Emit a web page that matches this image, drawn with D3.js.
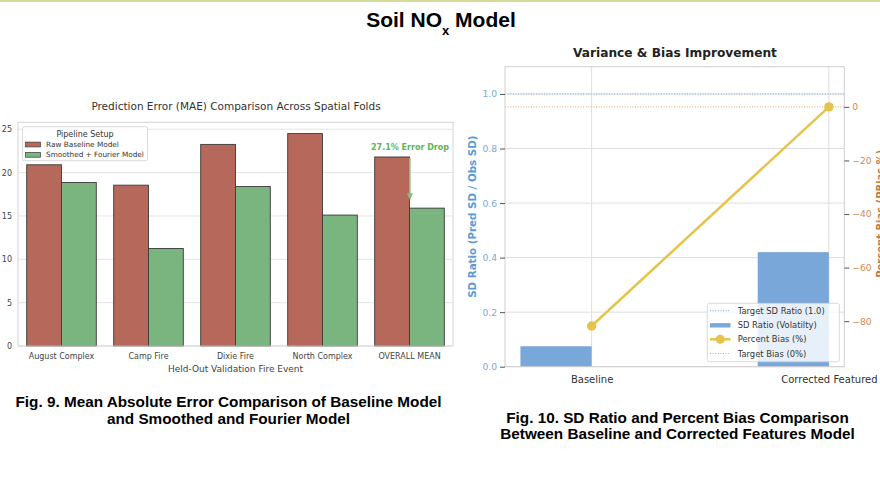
<!DOCTYPE html>
<html><head><meta charset="utf-8">
<script src="https://cdn.jsdelivr.net/npm/d3@7/dist/d3.min.js"></script>
<style>
html,body{margin:0;padding:0;background:#fff;}
svg{display:block;}
text{font-family:"DejaVu Sans",sans-serif;}
</style></head>
<body>
<svg id="c" width="880" height="494"></svg>
<script>
// ---------- data ----------
const folds = ["August Complex","Camp Fire","Dixie Fire","North Complex","OVERALL MEAN"];
const rawMAE = [20.9, 18.55, 23.25, 24.5, 21.8];
const smoothMAE = [18.85, 11.25, 18.4, 15.1, 15.9];
const maeSeries = ["Raw Baseline Model","Smoothed + Fourier Model"];
const maeTicks = [0,5,10,15,20,25];
const maeMax = 25.8;
const dropLabel = "27.1% Error Drop";

const models = ["Baseline","Corrected Featured"];
const sdRatio = [0.075, 0.42];
const pbias = [-81.8, 0];
const sdTicks = [0,0.2,0.4,0.6,0.8,1.0];
const sdDomain = [0, 1.1];
const pbTicks = [0,-20,-40,-60,-80];
const pbDomain = [-97, 15];
const targetSD = 1.0, targetBias = 0;
const legendRight = ["Target SD Ratio (1.0)","SD Ratio (Volatilty)","Percent Bias (%)","Target Bias (0%)"];

// ---------- styles ----------
const RED="#b6685a", GREEN="#7ab47e", BLUE="#7aa7d9", GOLD="#e6c34a", ORANGE="#d08a50";
const svg = d3.select("#c");

// top rule
svg.append("rect").attr("x",0).attr("y",0).attr("width",880).attr("height",2).attr("fill","#d6da9c");

// main title
const mt = svg.append("text").attr("x",441).attr("y",27).attr("text-anchor","middle")
  .style("font-family","'Liberation Sans',Arial,sans-serif").style("font-weight","bold").style("font-size","21px").attr("fill","#000");
mt.append("tspan").text("Soil NO");
mt.append("tspan").attr("dy",8).style("font-size","13px").text("x");
mt.append("tspan").attr("dy",-8).text(" Model");

// captions
function caption(lines, cx, ys){
  lines.forEach((t,i)=>svg.append("text").attr("x",cx).attr("y",ys[i]).attr("text-anchor","middle")
    .style("font-family","'Liberation Sans',Arial,sans-serif").style("font-weight","bold").style("font-size","15.3px")
    .attr("fill","#000").text(t));
}
caption(["Fig. 9. Mean Absolute Error Comparison of Baseline Model","and Smoothed and Fourier Model"],228.5,[407,423.5]);
caption(["Fig. 10. SD Ratio and Percent Bias Comparison","Between Baseline and Corrected Features Model"],677.5,[422.5,439]);

// ---------- left chart ----------
const L = {x0:18, x1:453, y0:122.3, y1:346};
const gL = svg.append("g");
const xb = d3.scaleBand().domain(folds).range([L.x0,L.x1]).paddingInner(0.2).paddingOuter(0.1);
const xs = d3.scaleBand().domain(maeSeries).range([0, xb.bandwidth()]);
const yL = d3.scaleLinear().domain([0,maeMax]).range([L.y1,L.y0]);

// grid
gL.append("g").selectAll("line").data(maeTicks).join("line")
  .attr("x1",L.x0).attr("x2",L.x1).attr("y1",d=>yL(d)).attr("y2",d=>yL(d))
  .attr("stroke","#e4e4e4").attr("stroke-width",1);

// bars
const rows = folds.map((f,i)=>({f, vals:[rawMAE[i], smoothMAE[i]]}));
const colors = [RED, GREEN];
rows.forEach(r=>{
  r.vals.forEach((v,j)=>{
    gL.append("rect").attr("x",xb(r.f)+xs(maeSeries[j])).attr("y",yL(v))
      .attr("width",xs.bandwidth()).attr("height",yL(0)-yL(v))
      .attr("fill",colors[j]).attr("stroke","#3a3a3a").attr("stroke-width",0.9);
  });
});

// frame
gL.append("rect").attr("x",L.x0).attr("y",L.y0).attr("width",L.x1-L.x0).attr("height",L.y1-L.y0)
  .attr("fill","none").attr("stroke","#d4d4d4").attr("stroke-width",1);

// axes
const axYL = gL.append("g").attr("transform",`translate(${L.x0},0)`)
  .call(d3.axisLeft(yL).tickValues(maeTicks).tickSize(0).tickPadding(6));
axYL.select(".domain").remove();
axYL.selectAll("text").style("font-size","8px").attr("fill","#444").style("font-family","'DejaVu Sans'");
const axXL = gL.append("g").attr("transform",`translate(0,${L.y1})`)
  .call(d3.axisBottom(xb).tickSize(0).tickPadding(7));
axXL.select(".domain").remove();
axXL.selectAll("text").style("font-size","8px").attr("fill","#444").style("font-family","'DejaVu Sans'");

gL.append("text").attr("x",(L.x0+L.x1)/2).attr("y",371.5).attr("text-anchor","middle")
  .style("font-size","9px").attr("fill","#444").text("Held-Out Validation Fire Event");
gL.append("text").attr("x",236).attr("y",109.5).attr("text-anchor","middle")
  .style("font-size","10.5px").attr("fill","#333").text("Prediction Error (MAE) Comparison Across Spatial Folds");

// annotation arrow
const last = folds.length-1;
const ax = xb(folds[last]) + xs.bandwidth() + 0.5;
const yTop = yL(rawMAE[last]), yTip = yL(smoothMAE[last]) - 8;
gL.append("line").attr("x1",ax).attr("x2",ax).attr("y1",yTop+1).attr("y2",yTip-5)
  .attr("stroke","#9ad49a").attr("stroke-width",1.6);
gL.append("path").attr("d",`M${ax-3},${yTip-7}L${ax+3},${yTip-7}L${ax},${yTip}Z`).attr("fill","#7cc47c");
gL.append("text").attr("x",ax).attr("y",149.5).attr("text-anchor","middle")
  .style("font-size","8px").style("font-weight","bold").attr("fill","#5db55d").text(dropLabel);

// legend
const lg = gL.append("g");
lg.append("rect").attr("x",22.5).attr("y",126.7).attr("width",125).attr("height",34).attr("rx",2)
  .attr("fill","#fff").attr("fill-opacity",0.85).attr("stroke","#cfcfcf").attr("stroke-width",0.8);
lg.append("text").attr("x",85).attr("y",136.8).attr("text-anchor","middle").style("font-size","8px").attr("fill","#333").text("Pipeline Setup");
maeSeries.forEach((s,j)=>{
  const cy = 144.5 + j*10.3;
  lg.append("rect").attr("x",25.5).attr("y",cy-2.4).attr("width",15).attr("height",4.8)
    .attr("fill",colors[j]).attr("stroke","#3a3a3a").attr("stroke-width",0.7);
  lg.append("text").attr("x",46).attr("y",cy+2.6).style("font-size","7.3px").attr("fill","#333").text(s);
});

// ---------- right chart ----------
const R = {x0:505, x1:844.3, y0:66.7, y1:366.7};
const gR = svg.append("g");
const xR = d3.scaleLinear().domain([-0.365, 1.065]).range([R.x0,R.x1]);
const ySD = d3.scaleLinear().domain(sdDomain).range([R.y1,R.y0]);
const yPB = d3.scaleLinear().domain(pbDomain).range([R.y1,R.y0]);
const idx = models.map((m,i)=>i);

// grid
gR.append("g").selectAll("line").data(sdTicks).join("line")
  .attr("x1",R.x0).attr("x2",R.x1).attr("y1",d=>ySD(d)).attr("y2",d=>ySD(d))
  .attr("stroke","#dedede").attr("stroke-width",1);
gR.append("g").selectAll("line").data(idx).join("line")
  .attr("x1",d=>xR(d)).attr("x2",d=>xR(d)).attr("y1",R.y0).attr("y2",R.y1)
  .attr("stroke","#dedede").attr("stroke-width",1);

// bars (aligned to the left of the tick)
gR.append("g").selectAll("rect").data(idx).join("rect")
  .attr("x",d=>xR(d-0.3)).attr("width",d=>xR(d)-xR(d-0.3))
  .attr("y",d=>ySD(sdRatio[d])).attr("height",d=>ySD(0)-ySD(sdRatio[d]))
  .attr("fill",BLUE);

// target lines
gR.append("line").attr("x1",R.x0).attr("x2",R.x1).attr("y1",ySD(targetSD)).attr("y2",ySD(targetSD))
  .attr("stroke","#7aa7d9").attr("stroke-width",1).attr("stroke-dasharray","1,1.6");
gR.append("line").attr("x1",R.x0).attr("x2",R.x1).attr("y1",yPB(targetBias)).attr("y2",yPB(targetBias))
  .attr("stroke","#e0a46a").attr("stroke-width",1).attr("stroke-dasharray","1,1.6");

// frame
gR.append("rect").attr("x",R.x0).attr("y",R.y0).attr("width",R.x1-R.x0).attr("height",R.y1-R.y0)
  .attr("fill","none").attr("stroke","#cfcfcf").attr("stroke-width",1);

// line
gR.append("path").datum(idx).attr("d",d3.line().x(d=>xR(d)).y(d=>yPB(pbias[d])))
  .attr("fill","none").attr("stroke",GOLD).attr("stroke-width",2.5);
gR.append("g").selectAll("circle").data(idx).join("circle")
  .attr("cx",d=>xR(d)).attr("cy",d=>yPB(pbias[d])).attr("r",4.7).attr("fill",GOLD);

// axes
const axL = gR.append("g").attr("transform",`translate(${R.x0},0)`)
  .call(d3.axisLeft(ySD).tickValues(sdTicks).tickFormat(d3.format(".1f")).tickSize(5).tickPadding(3));
axL.select(".domain").remove();
axL.selectAll("line").attr("stroke","#555");
axL.selectAll("text").style("font-size","9.2px").attr("fill","#7aaad8").style("font-family","'DejaVu Sans'");
const axRr = gR.append("g").attr("transform",`translate(${R.x1},0)`)
  .call(d3.axisRight(yPB).tickValues(pbTicks).tickSize(5).tickPadding(3));
axRr.select(".domain").remove();
axRr.selectAll("line").attr("stroke","#555");
axRr.selectAll("text").style("font-size","9.2px").attr("fill",ORANGE).style("font-family","'DejaVu Sans'");
const axB = gR.append("g").attr("transform",`translate(0,${R.y1})`)
  .call(d3.axisBottom(xR).tickValues(idx).tickFormat(i=>models[i]).tickSize(0).tickPadding(9));
axB.select(".domain").remove();
axB.selectAll("text").style("font-size","10px").attr("fill","#333").style("font-family","'DejaVu Sans'");

// axis labels & title
gR.append("text").attr("transform",`translate(475.5,${(R.y0+R.y1)/2}) rotate(-90)`).attr("text-anchor","middle")
  .style("font-size","10.3px").style("font-weight","bold").attr("fill","#5b9bd5").text("SD Ratio (Pred SD / Obs SD)");
gR.append("text").attr("transform",`translate(883.5,${(R.y0+R.y1)/2-3}) rotate(-90)`).attr("text-anchor","middle")
  .style("font-size","10px").style("font-weight","bold").attr("fill","#c87a3e").text("Percent Bias (PBias %)");
gR.append("text").attr("x",675).attr("y",57).attr("text-anchor","middle")
  .style("font-size","12.2px").style("font-weight","bold").attr("fill","#222").text("Variance & Bias Improvement");

// legend
const lr = gR.append("g");
lr.append("rect").attr("x",707.3).attr("y",303.3).attr("width",132).attr("height",58.4).attr("rx",2)
  .attr("fill","#fff").attr("fill-opacity",0.82).attr("stroke","#d0d0d0").attr("stroke-width",0.8);
const ly = [310.7, 325.3, 339.3, 353.5];
lr.append("line").attr("x1",710).attr("x2",730.5).attr("y1",ly[0]).attr("y2",ly[0])
  .attr("stroke","#7aa7d9").attr("stroke-width",1).attr("stroke-dasharray","1,1.6");
lr.append("rect").attr("x",710).attr("y",ly[1]-2.2).attr("width",20.5).attr("height",4.4).attr("fill",BLUE);
lr.append("line").attr("x1",710).attr("x2",730.5).attr("y1",ly[2]).attr("y2",ly[2]).attr("stroke",GOLD).attr("stroke-width",2.5);
lr.append("circle").attr("cx",720.2).attr("cy",ly[2]).attr("r",4.5).attr("fill",GOLD);
lr.append("line").attr("x1",710).attr("x2",730.5).attr("y1",ly[3]).attr("y2",ly[3])
  .attr("stroke","#e0a46a").attr("stroke-width",1).attr("stroke-dasharray","1,1.6");
legendRight.forEach((t,i)=>lr.append("text").attr("x",737.7).attr("y",ly[i]+3).style("font-size","8.4px").attr("fill","#333").text(t));
</script>
</body></html>
